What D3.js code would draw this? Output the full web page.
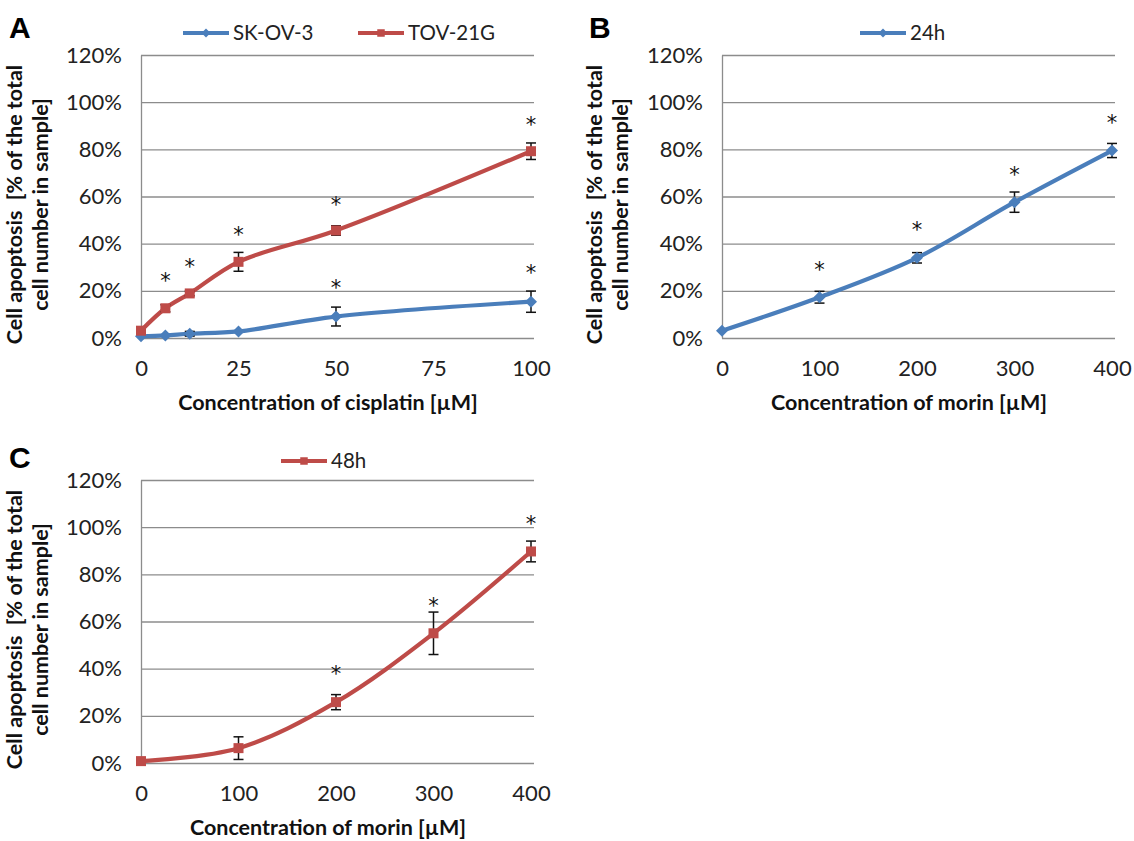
<!DOCTYPE html>
<html><head><meta charset="utf-8">
<script src="https://cdn.jsdelivr.net/npm/d3@7"></script>
<style>
body{margin:0;background:#fff;}
svg text{font-family:Lato,"Open Sans",sans-serif;}
</style></head>
<body><svg id="c" width="1134" height="841"></svg>
<script>
// ---------- data ----------
const cisplatinConc = [0, 6.25, 12.5, 25, 50, 100];
const skov3Mean = [0.7, 1.1, 1.8, 2.8, 9.1, 15.4];
const skov3Err  = [0.3, 0.5, 1.0, 0.6, 4.0, 4.5];
const skov3Star = [null, null, null, null, 23.4, 29.8];
const tov21gMean = [3.1, 12.6, 18.9, 32.3, 45.6, 79.2];
const tov21gErr  = [0.5, 1.5, 1.0, 4.0, 2.0, 3.5];
const tov21gStar = [null, 26.2, 32.3, 45.9, 58.7, 92.6];

const morinConc = [0, 100, 200, 300, 400];
const morin24Mean = [3.1, 17.3, 34.0, 57.6, 79.5];
const morin24Err  = [0.5, 2.5, 2.2, 4.3, 3.0];
const morin24Star = [null, 30.9, 48.1, 71.3, 93.3];
const morin48Mean = [0.8, 6.3, 25.8, 55.0, 89.7];
const morin48Err  = [0.5, 4.8, 3.2, 9.0, 4.4];
const morin48Star = [null, null, 39.7, 68.6, 103.5];

const yTicks = [0, 20, 40, 60, 80, 100, 120];
const cisTicks = [0, 25, 50, 75, 100];
const morinTicks = [0, 100, 200, 300, 400];

const BLUE = "#4A7EBB", RED = "#BE4B48";
const svg = d3.select("#c");

function panel(o){
  const g = svg.append("g");
  const x = d3.scaleLinear().domain(o.xDomain).range([o.x0, o.x1]);
  const y = d3.scaleLinear().domain([0,120]).range([o.y0, o.y1]);
  // y axis + gridlines
  const ya = g.append("g").attr("transform",`translate(${o.x0},0)`)
    .call(d3.axisLeft(y).tickValues(yTicks).tickSizeInner(-(o.x1-o.x0+3)).tickSizeOuter(0)
      .tickPadding(19).tickFormat(d=>d+"%"));
  ya.select(".domain").attr("stroke","#8c8c8c").attr("stroke-width",1.3);
  ya.selectAll(".tick line").attr("stroke","#8c8c8c").attr("stroke-width",1.3);
  ya.selectAll(".tick text").attr("font-size",22).attr("fill","#222").style("font-family","Lato");
  // x axis labels
  const xa = g.append("g").attr("transform",`translate(0,${o.y0})`)
    .call(d3.axisBottom(x).tickValues(o.xTicks).tickSize(0).tickPadding(22));
  xa.select(".domain").remove();
  xa.selectAll(".tick text").attr("font-size",22).attr("fill","#222").style("font-family","Lato");
  // axis titles
  g.append("text").attr("x",(o.x0+o.x1)/2 - 8).attr("y",o.y0+72).attr("text-anchor","middle")
    .attr("font-size",21.5).attr("font-weight","bold").attr("fill","#111").text(o.xTitle);
  const cy = (o.y0+o.y1)/2 + 8;
  o.yTitle.forEach((t,i)=>{
    g.append("text").attr("transform",`translate(${o.titleX + i*26},${cy}) rotate(-90)`)
      .attr("text-anchor","middle").attr("font-size",21.5).attr("font-weight","bold").attr("fill","#111")
      .style("white-space","pre").text(t);
  });
  // panel letter
  g.append("text").attr("x",o.letterX).attr("y",o.letterY).attr("font-size",30).attr("font-weight","bold")
    .style("font-family","'Liberation Sans',Arial,sans-serif").attr("fill","#000").text(o.letter);
  // series
  const line = d3.line().x(d=>x(d[0])).y(d=>y(d[1])).curve(d3.curveCatmullRom.alpha(0.5));
  o.series.forEach(s=>{
    const pts = o.xs.map((v,i)=>[v,s.mean[i]]);
    g.append("path").attr("d",line(pts)).attr("fill","none").attr("stroke",s.color).attr("stroke-width",4.2)
      .attr("stroke-linejoin","round").attr("stroke-linecap","round");
    // error bars
    const eb = g.append("g").attr("stroke","#111").attr("stroke-width",1.5);
    o.xs.forEach((v,i)=>{
      const e = s.err[i]; if(!e || e<0.8) return;
      const cx = x(v), t = y(s.mean[i]+e), b = y(s.mean[i]-e);
      eb.append("line").attr("x1",cx).attr("x2",cx).attr("y1",t).attr("y2",b);
      eb.append("line").attr("x1",cx-5).attr("x2",cx+5).attr("y1",t).attr("y2",t);
      eb.append("line").attr("x1",cx-5).attr("x2",cx+5).attr("y1",b).attr("y2",b);
    });
    // markers
    o.xs.forEach((v,i)=>marker(g, s.shape, x(v), y(s.mean[i]), s.color));
    // stars
    o.xs.forEach((v,i)=>{
      const st = s.star[i]; if(st==null) return;
      g.append("text").attr("x",x(v)).attr("y",y(st)+12).attr("text-anchor","middle")
        .style("font-family","'DejaVu Sans',sans-serif")
        .attr("font-size",21).attr("fill","#111").text("*");
    });
  });
  // legend
  o.legend.forEach(l=>{
    g.append("line").attr("x1",l.x).attr("x2",l.x+46).attr("y1",l.y).attr("y2",l.y)
      .attr("stroke",l.color).attr("stroke-width",4.2);
    marker(g, l.shape, l.x+23, l.y, l.color, 0.75);
    g.append("text").attr("x",l.x+50).attr("y",l.y+7).attr("font-size",20.5).attr("fill","#222").text(l.label);
  });
}
function marker(g, shape, cx, cy, color, k=1){
  if(shape==="diamond"){
    const r=6*k;
    g.append("path").attr("d",`M${cx},${cy-r}L${cx+r},${cy}L${cx},${cy+r}L${cx-r},${cy}Z`).attr("fill",color);
  } else {
    const r=5*k;
    g.append("rect").attr("x",cx-r).attr("y",cy-r).attr("width",2*r).attr("height",2*r).attr("fill",color);
  }
}

panel({letter:"A", letterX:9, letterY:38, x0:141, x1:531, y0:338, y1:55, xDomain:[0,100], xTicks:cisTicks,
  xs:cisplatinConc, xTitle:"Concentration of cisplatin [µM]", titleX:22,
  yTitle:["Cell apoptosis  [% of the total","cell number in sample]"],
  series:[
    {mean:skov3Mean, err:skov3Err, star:skov3Star, color:BLUE, shape:"diamond"},
    {mean:tov21gMean, err:tov21gErr, star:tov21gStar, color:RED, shape:"square"}],
  legend:[{x:183,y:33,color:BLUE,shape:"diamond",label:"SK-OV-3"},{x:358,y:33,color:RED,shape:"square",label:"TOV-21G"}]
});
panel({letter:"B", letterX:589, letterY:38, x0:722, x1:1112, y0:338, y1:55, xDomain:[0,400], xTicks:morinTicks,
  xs:morinConc, xTitle:"Concentration of morin [µM]", titleX:602,
  yTitle:["Cell apoptosis  [% of the total","cell number in sample]"],
  series:[{mean:morin24Mean, err:morin24Err, star:morin24Star, color:BLUE, shape:"diamond"}],
  legend:[{x:860,y:33,color:BLUE,shape:"diamond",label:"24h"}]
});
panel({letter:"C", letterX:9, letterY:468, x0:141, x1:531, y0:763, y1:480, xDomain:[0,400], xTicks:morinTicks,
  xs:morinConc, xTitle:"Concentration of morin [µM]", titleX:22,
  yTitle:["Cell apoptosis  [% of the total","cell number in sample]"],
  series:[{mean:morin48Mean, err:morin48Err, star:morin48Star, color:RED, shape:"square"}],
  legend:[{x:281,y:461,color:RED,shape:"square",label:"48h"}]
});
</script></body></html>
